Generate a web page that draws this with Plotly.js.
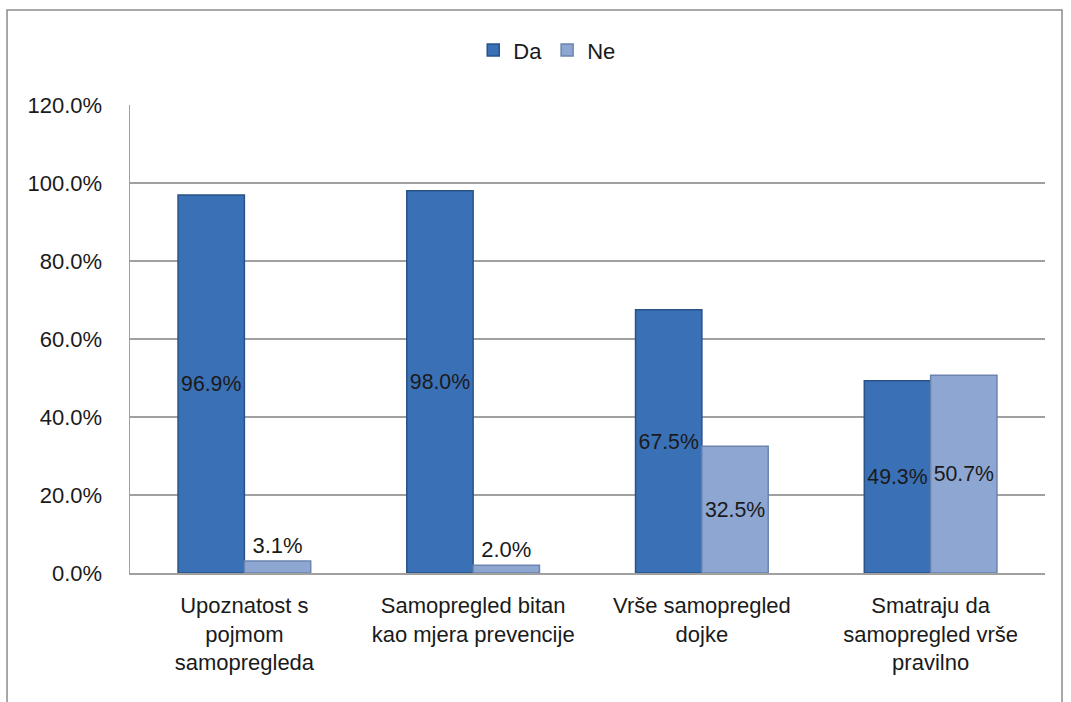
<!DOCTYPE html>
<html>
<head>
<meta charset="utf-8">
<script src="https://cdn.plot.ly/plotly-3.0.1.min.js"></script>
<style>
html,body{margin:0;padding:0;background:#fff;}
#chart{width:1071px;height:702px;}
</style>
</head>
<body>
<div id="chart"></div>
<script>
var categories = [
  "Upoznatost s<br>pojmom<br>samopregleda",
  "Samopregled bitan<br>kao mjera prevencije",
  "Vrše samopregled<br>dojke",
  "Smatraju da<br>samopregled vrše<br>pravilno"
];
var seriesNames = ["Da", "Ne"];
var daValues = [96.9, 98.0, 67.5, 49.3];
var neValues = [3.1, 2.0, 32.5, 50.7];
var yTickValues = [0, 20, 40, 60, 80, 100, 120];

var FONT = "Liberation Sans, Arial, sans-serif";

function labels(vals){ return vals.map(function(v){ return v.toFixed(1) + "%"; }); }

var traceDa = {
  type: "bar",
  name: seriesNames[0],
  x: categories,
  y: daValues,
  text: labels(daValues),
  textposition: "inside",
  insidetextanchor: "middle",
  textangle: 0,
  textfont: {family: FONT, size: 22, color: "#1a1a1a"},
  marker: {color: "#3A70B6", line: {color: "#2A5288", width: 1.5}},
  hoverinfo: "y"
};
var traceNe = {
  type: "bar",
  name: seriesNames[1],
  x: categories,
  y: neValues,
  text: labels(neValues),
  textposition: neValues.map(function(v){ return v < 10 ? "outside" : "inside"; }),
  insidetextanchor: "middle",
  textangle: 0,
  textfont: {family: FONT, size: 22, color: "#1a1a1a"},
  outsidetextfont: {family: FONT, size: 22, color: "#1a1a1a"},
  marker: {color: "#8DA6D2", line: {color: "#6C84AE", width: 1.5}},
  cliponaxis: false,
  hoverinfo: "y"
};

var layout = {
  width: 1071,
  height: 702,
  paper_bgcolor: "#ffffff",
  plot_bgcolor: "#ffffff",
  font: {family: FONT, size: 22, color: "#1a1a1a"},
  margin: {l: 130, r: 26, t: 105, b: 129, pad: 0},
  barmode: "group",
  bargap: 0.42,
  bargroupgap: 0,
  showlegend: true,
  legend: {
    orientation: "h",
    x: 0.456, xanchor: "center",
    y: 1.117, yanchor: "middle",
    font: {family: FONT, size: 22, color: "#1a1a1a"},
    itemwidth: 30,
    tracegroupgap: 0
  },
  xaxis: {
    type: "category",
    showgrid: false,
    showline: true,
    linecolor: "#A0A0A0",
    linewidth: 1.5,
    ticks: "",
    tickfont: {family: FONT, size: 22, color: "#1a1a1a"},
    ticklabelstandoff: 12,
    fixedrange: true
  },
  yaxis: {
    range: [0, 120],
    tickvals: yTickValues,
    ticktext: yTickValues.map(function(v){ return v.toFixed(1) + "%"; }),
    showgrid: true,
    gridcolor: "#A0A0A0",
    gridwidth: 1.5,
    showline: true,
    linecolor: "#A0A0A0",
    linewidth: 1.5,
    zeroline: false,
    ticks: "",
    ticklabelstandoff: 22,
    tickfont: {family: FONT, size: 22, color: "#1a1a1a"},
    fixedrange: true
  },
  shapes: [{
    type: "rect",
    xref: "paper", yref: "paper",
    x0: -0.1344, x1: 1.0186,
    y0: -0.30, y1: 1.203,
    line: {color: "#8C8C8C", width: 1.5},
    fillcolor: "rgba(0,0,0,0)",
    layer: "below"
  }]
};

Plotly.newPlot("chart", [traceDa, traceNe], layout, {displayModeBar: false, staticPlot: true});
</script>
</body>
</html>
